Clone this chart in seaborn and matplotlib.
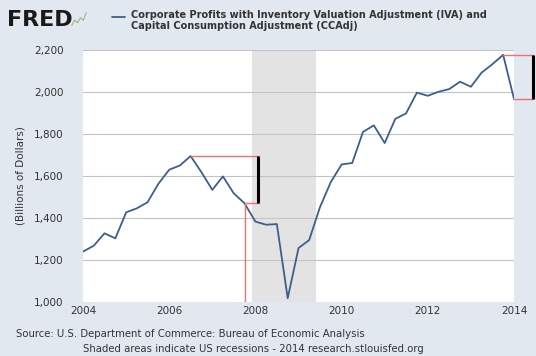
import numpy as np
import pandas as pd
import matplotlib
matplotlib.use("Agg")
import matplotlib.pyplot as plt
import seaborn as sns

# Quarterly corporate profits with IVA and CCAdj, billions of dollars
quarters = pd.date_range("2004-01-01", periods=41, freq="QS")
profits = [1240, 1268, 1327, 1303, 1427, 1446, 1475, 1563,
           1630, 1650, 1695, 1618, 1534, 1598, 1518, 1470,
           1383, 1368, 1371, 1018, 1257, 1295, 1451, 1571,
           1655, 1662, 1810, 1841, 1757, 1872, 1898, 1997,
           1982, 2001, 2014, 2049, 2025, 2092, 2132, 2177,
           1967]
recession = (pd.Timestamp("2007-12-01"), pd.Timestamp("2009-06-01"))
y_ticks = [1000, 1200, 1400, 1600, 1800, 2000, 2200]
x_tick_years = [2004, 2006, 2008, 2010, 2012, 2014]

title = ("Corporate Profits with Inventory Valuation Adjustment (IVA) and\n"
         "Capital Consumption Adjustment (CCAdj)")
source = "Source: U.S. Department of Commerce: Bureau of Economic Analysis"
note = "Shaded areas indicate US recessions - 2014 research.stlouisfed.org"

sns.set_theme(style="white")
plt.rcParams['font.family'] = ['DejaVu Sans']

BG = "#e1e8f0"
LINE = "#3d5f8e"
RED = "#f07070"
TXT = "#333333"

df = pd.DataFrame({"date": quarters, "value": profits})

fig = plt.figure(figsize=(5.36, 3.56), dpi=100, facecolor=BG)
ax = fig.add_axes([83 / 536, 1 - 302 / 356, 431 / 536, 252 / 356])
ax.set_facecolor("white")

ax.axvspan(recession[0], recession[1], color="#e3e3e3", zorder=0, lw=0)
for yv in y_ticks[1:]:
    ax.axhline(yv, color="#c4c4c4", lw=0.8, zorder=1)

sns.lineplot(data=df, x="date", y="value", ax=ax, color=LINE, lw=1.3, zorder=3)

# decline annotations
peak_i = int(np.argmax(profits[:16]))
pre_i = 15
bar_x = pd.Timestamp("2008-01-20")
ax.plot([quarters[peak_i], bar_x], [profits[peak_i]] * 2, color=RED, lw=1.0, zorder=4)
ax.plot([quarters[pre_i], bar_x], [profits[pre_i]] * 2, color=RED, lw=1.0, zorder=4)
ax.plot([quarters[pre_i]] * 2, [1000, profits[pre_i]], color=RED, lw=1.0, zorder=4)
ax.plot([bar_x] * 2, [profits[pre_i], profits[peak_i]], color="black", lw=2.2, zorder=5,
        solid_capstyle="butt")

end_x = pd.Timestamp("2014-06-10")
ax.plot([quarters[-2], end_x], [profits[-2]] * 2, color=RED, lw=1.0, clip_on=False, zorder=4)
ax.plot([quarters[-1], end_x], [profits[-1]] * 2, color=RED, lw=1.0, clip_on=False, zorder=4)
ax.plot([end_x] * 2, [profits[-1], profits[-2]], color="black", lw=2.2, clip_on=False,
        zorder=5, solid_capstyle="butt")

ax.set_xlim(pd.Timestamp("2004-01-01"), pd.Timestamp("2014-01-01"))
ax.set_ylim(1000, 2200)
ax.set_yticks(y_ticks)
ax.set_yticklabels([f"{v:,}" for v in y_ticks])
ax.set_xticks([pd.Timestamp(f"{y}-01-01") for y in x_tick_years])
ax.set_xticklabels([str(y) for y in x_tick_years])
ax.tick_params(axis="both", labelsize=7.5, colors=TXT, length=0, pad=3)
ax.tick_params(axis="y", pad=14)
ax.set_xlabel("")
ax.set_ylabel("(Billions of Dollars)", fontsize=7.5, color=TXT, labelpad=6)
for s in ax.spines.values():
    s.set_visible(False)

# header
fig.text(7 / 536, 1 - 26 / 356, "FRED", fontsize=16, fontweight="heavy", color="#1a1a1a")
icon = fig.add_axes([71 / 536, 1 - 26 / 356, 16 / 536, 14 / 356])
icon.plot([0, 1, 2, 3, 4, 5], [0, 2, 1, 3, 2, 5], color="#9ab87a", lw=0.8)
icon.axis("off")
fig.lines.append(plt.Line2D([112 / 536, 125 / 536], [1 - 17 / 356] * 2,
                            transform=fig.transFigure, color=LINE, lw=1.3))
fig.text(131 / 536, 1 - 10 / 356, title, fontsize=7.0, fontweight="bold", color=TXT,
         va="top", linespacing=1.15)

fig.text(16 / 536, 1 - 334 / 356, source, fontsize=7.3, color=TXT, va="center")
fig.text(253 / 536, 1 - 349 / 356, note, fontsize=7.3, color=TXT, va="center", ha="center")

fig.savefig("out.png", dpi=100, facecolor=BG)
